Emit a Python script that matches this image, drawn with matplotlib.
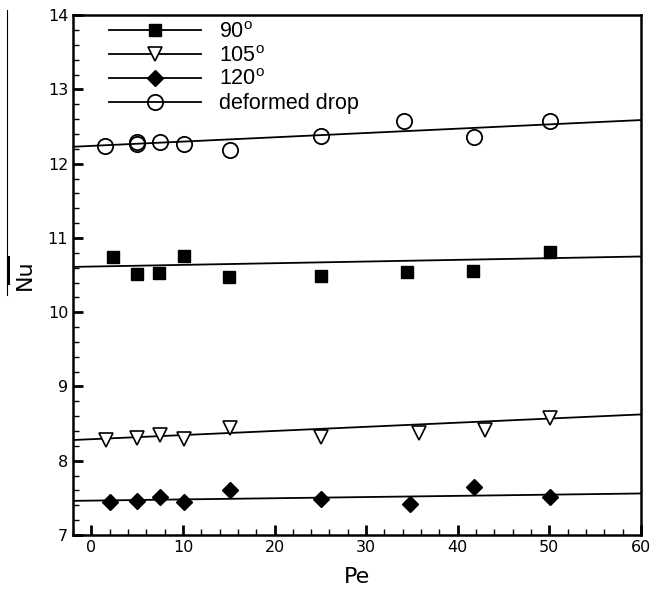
import numpy as np
import matplotlib
matplotlib.use("Agg")
import matplotlib.pyplot as plt
from matplotlib.lines import Line2D
from matplotlib.ticker import MultipleLocator

# data
pe_90 = [2.4, 5.0, 7.4, 10.1, 15.0, 25.1, 34.5, 41.7, 50.1]
nu_90 = [10.75, 10.51, 10.53, 10.76, 10.48, 10.49, 10.54, 10.56, 10.81]

pe_105 = [1.6, 5.0, 7.5, 10.1, 15.1, 25.1, 35.8, 43.0, 50.1]
nu_105 = [8.28, 8.30, 8.34, 8.29, 8.44, 8.32, 8.38, 8.42, 8.58]

pe_120 = [2.0, 5.0, 7.5, 10.1, 15.1, 25.1, 34.8, 41.8, 50.1]
nu_120 = [7.45, 7.46, 7.51, 7.44, 7.61, 7.49, 7.42, 7.64, 7.51]

pe_def = [1.5, 5.0, 5.0, 7.5, 10.1, 15.1, 25.1, 34.1, 41.8, 50.1]
nu_def = [12.24, 12.27, 12.29, 12.29, 12.26, 12.19, 12.38, 12.57, 12.36, 12.57]

# linear fits (intercept, slope) as drawn in the figure
fit_90 = (10.615, 0.00226)
fit_105 = (8.29, 0.00556)
fit_120 = (7.463, 0.0016)
fit_def = (12.24, 0.0058)

labels = ["90$^\\mathregular{o}$", "105$^\\mathregular{o}$", "120$^\\mathregular{o}$", "deformed drop"]

fig = plt.figure(figsize=(6.52, 5.92), dpi=100)
ax = fig.add_axes([0.112, 0.0963, 0.871, 0.878])

xfit = np.array([-2, 60])
series = [
    (pe_90, nu_90, fit_90, dict(marker="s", ms=8, mfc="black", mec="black")),
    (pe_105, nu_105, fit_105, dict(marker="v", ms=10, mfc="white", mec="black", mew=1.2)),
    (pe_120, nu_120, fit_120, dict(marker="D", ms=8, mfc="black", mec="black")),
    (pe_def, nu_def, fit_def, dict(marker="o", ms=11, mfc="none", mec="black", mew=1.3)),
]

handles = []
for (x, y, fit, mk), lab in zip(series, labels):
    ax.plot(x, y, linestyle="none", zorder=3, **mk)
    ax.plot(xfit, fit[0] + fit[1] * xfit, color="black", lw=1.3, zorder=2)
    handles.append(Line2D([0], [0], color="black", lw=1.3, label=lab, **mk))

leg = ax.legend(handles=handles, loc="upper left", bbox_to_anchor=(0.04, 1.012),
                frameon=False, handlelength=4.3, handletextpad=0.84,
                labelspacing=0.13, borderaxespad=0.2,
                prop={"family": "Liberation Sans", "size": 15.5})

ax.set_xlim(-2, 60)
ax.set_ylim(7, 14)
ax.xaxis.set_major_locator(MultipleLocator(10))
ax.xaxis.set_minor_locator(MultipleLocator(2))
ax.yaxis.set_major_locator(MultipleLocator(1))
ax.yaxis.set_minor_locator(MultipleLocator(0.2))
ax.tick_params(which="both", direction="in", top=False, right=False, labelsize=11.5)
ax.tick_params(which="major", length=7, width=2)
ax.tick_params(which="minor", length=4, width=1)
for sp in ax.spines.values():
    sp.set_linewidth(1.8)

ax.set_xlabel("Pe", fontsize=16, labelpad=9)
ax.set_ylabel("Nu", fontsize=16, labelpad=9)

# scan artefacts on the left edge
fig.add_artist(Line2D([7 / 652, 7 / 652], [1 - 10 / 592, 1 - 295 / 592], color="black", lw=0.8))
fig.add_artist(Line2D([8 / 652, 8 / 652], [1 - 257 / 592, 1 - 283 / 592], color="black", lw=2.2))

fig.savefig("out.png", dpi=100)
